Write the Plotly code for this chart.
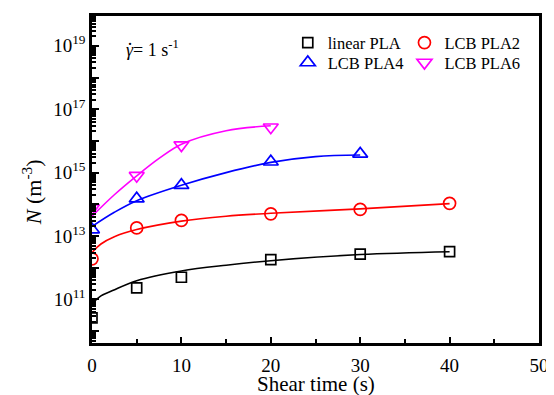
import plotly.graph_objects as go

# ---- data ----
t_linear = [0, 5, 10, 20, 30, 40]
n_linear = [2.6e10, 2.3e11, 5.0e11, 1.8e12, 2.7e12, 3.2e12]
fit_t_linear = [0.2, 1, 2.3, 5, 10, 15, 20, 30, 40]
fit_n_linear = [8.3e10, 1.3e11, 1.9e11, 3.9e11, 7.9e11, 1.2e12, 1.66e12, 2.6e12, 3.2e12]

t_lcb2 = [0, 5, 10, 20, 30, 40]
n_lcb2 = [1.9e12, 1.8e13, 3.1e13, 5.0e13, 6.9e13, 1.07e14]
fit_t_lcb2 = [0, 1, 2.5, 5, 10, 15, 20, 30, 40]
fit_n_lcb2 = [3.0e12, 5.6e12, 9.5e12, 1.6e13, 2.95e13, 4.2e13, 5.2e13, 7.2e13, 1.05e14]

t_lcb4 = [0, 5, 10, 20, 30]
n_lcb4 = [1.6e13, 1.5e14, 4.0e14, 2.2e15, 3.9e15]
fit_t_lcb4 = [0, 2.5, 5, 10, 15, 20, 25, 30]
fit_n_lcb4 = [2.0e13, 5.6e13, 1.3e14, 4.0e14, 1.0e15, 2.1e15, 3.2e15, 3.6e15]

t_lcb6 = [0, 5, 10, 20]
n_lcb6 = [7.6e13, 8.0e14, 7.4e15, 2.7e16]
fit_t_lcb6 = [0, 2.5, 5, 7.5, 10, 15, 20]
fit_n_lcb6 = [4.2e13, 2.0e14, 7.9e14, 2.8e15, 7.9e15, 2.1e16, 3.0e16]

names = ["linear PLA", "LCB PLA2", "LCB PLA4", "LCB PLA6"]
colors = ["#000000", "#ff0000", "#0000ff", "#ff00ff"]
symbols = ["square-open", "circle-open", "triangle-up-open", "triangle-down-open"]
msizes = [10, 12, 13, 13]
legend_ids = ["legend", "legend2", "legend3", "legend4"]

y_tick_vals = [1e10, 1e11, 1e12, 1e13, 1e14, 1e15, 1e16, 1e17, 1e18, 1e19]
y_tick_text = ["", "10<sup>11</sup>", "", "10<sup>13</sup>", "", "10<sup>15</sup>",
               "", "10<sup>17</sup>", "", "10<sup>19</sup>"]

FONT = "Liberation Serif, Times New Roman, serif"

fig = go.Figure()
series = [
    (t_linear, n_linear, fit_t_linear, fit_n_linear),
    (t_lcb2, n_lcb2, fit_t_lcb2, fit_n_lcb2),
    (t_lcb4, n_lcb4, fit_t_lcb4, fit_n_lcb4),
    (t_lcb6, n_lcb6, fit_t_lcb6, fit_n_lcb6),
]
for i, (tx, ny, ftx, fny) in enumerate(series):
    fig.add_trace(go.Scatter(x=ftx, y=fny, mode="lines", line=dict(color=colors[i], width=1.6, shape="spline"),
                             showlegend=False, hoverinfo="skip"))
for i, (tx, ny, ftx, fny) in enumerate(series):
    fig.add_trace(go.Scatter(x=tx, y=ny, mode="markers", name=names[i], legend=legend_ids[i],
                             marker=dict(symbol=symbols[i], size=msizes[i], color=colors[i],
                                         line=dict(width=1.7, color=colors[i]))))

axis_common = dict(showline=True, linecolor="black", linewidth=2.5, mirror=True,
                   ticks="inside", tickcolor="black", tickwidth=2, showgrid=False, zeroline=False,
                   tickfont=dict(family=FONT, size=19, color="black"))

fig.update_xaxes(range=[0, 50], dtick=10, tick0=0, ticklen=6, ticklabelstandoff=3,
                 minor=dict(ticks="inside", dtick=5, tick0=0, ticklen=4, tickwidth=2, tickcolor="black"),
                 **axis_common)
fig.update_yaxes(type="log", range=[9.625, 19.94], tickmode="array", tickvals=y_tick_vals,
                 ticktext=y_tick_text, ticklen=7,
                 minor=dict(ticks="inside", dtick="D1", ticklen=4, tickwidth=1.5, tickcolor="black"),
                 **axis_common)

legend_common = dict(font=dict(family=FONT, size=16.5, color="black"), bgcolor="rgba(0,0,0,0)",
                     orientation="v", xanchor="left", yanchor="middle", itemsizing="trace")

# the page adds an 8px body margin: figure is sized 546x387 so it fills the 554x395 window
fig.update_layout(
    width=546, height=387,
    margin=dict(l=84, r=10, t=5, b=52),
    font=dict(family=FONT, color="black"),
    plot_bgcolor="white", paper_bgcolor="white",
    legend=dict(x=0.438, y=0.918, **legend_common),
    legend2=dict(x=0.699, y=0.918, **legend_common),
    legend3=dict(x=0.438, y=0.857, **legend_common),
    legend4=dict(x=0.699, y=0.857, **legend_common),
    annotations=[
        dict(text="<i>N</i> (m<sup>-3</sup>)", xref="paper", yref="paper", x=-0.135, y=0.46,
             xanchor="center", yanchor="middle", textangle=-90, showarrow=False,
             font=dict(family=FONT, size=22, color="black")),
        dict(text="Shear time (s)", xref="paper", yref="paper", x=0.5, y=-0.126,
             xanchor="center", yanchor="middle", showarrow=False,
             font=dict(family=FONT, size=21, color="black")),
        dict(text="<i>γ</i>= 1 s<sup>-1</sup>", xref="paper", yref="paper", x=0.072, y=0.9,
             xanchor="left", yanchor="middle", showarrow=False,
             font=dict(family=FONT, size=18, color="black")),
        dict(text="·", xref="paper", yref="paper", x=0.084, y=0.915,
             xanchor="center", yanchor="middle", showarrow=False,
             font=dict(family=FONT, size=18, color="black")),
    ],
)

fig.write_html("out.html")
